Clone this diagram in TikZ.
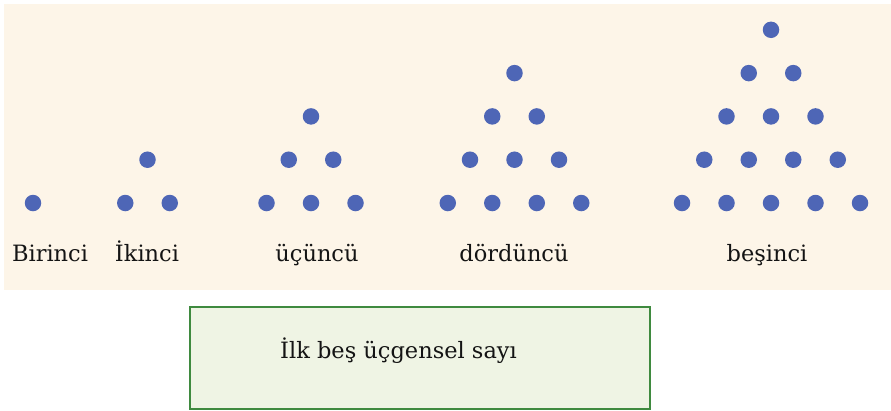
\documentclass[tikz,border=0pt]{standalone}
\usepackage{fontspec}
\setmainfont{DejaVu Serif}
\usepackage{xcolor}
\usepackage{tikz}
\usetikzlibrary{positioning,calc}
\definecolor{sand}{HTML}{FDF5E8}
\definecolor{dotblue}{HTML}{4E66B6}
\definecolor{leaf}{HTML}{3F8A3F}
\definecolor{mint}{HTML}{EFF4E4}
\definecolor{ink}{HTML}{141414}
\tikzset{
  dot/.style={circle, fill=dotblue, draw=none, inner sep=0pt, minimum size=16.5pt},
  lbl/.style={font=\fontsize{22.5}{27}\selectfont, text=ink, inner sep=0pt, anchor=base},
  notebox/.style={rectangle, draw=leaf, fill=mint, line width=2.4pt, inner sep=0pt,
                  minimum width=460pt, minimum height=102pt, anchor=north west},
}

\begin{document}
\begin{tikzpicture}[x=1pt, y=-1pt]
\useasboundingbox (0,0) rectangle (891,410);
\fill[sand] (4,4) rectangle (891,290);

% triangles: rows / apex x / name / label x / label
\foreach \k/\cx/\nm/\lx/\txt in {1/33/bir/50/Birinci, 2/147.5/iki/147/İkinci,
    3/311/uc/317/üçüncü, 4/514.5/dort/514/dördüncü, 5/771/bes/767/beşinci}{
  \foreach \r in {1,...,\k}{
    \foreach \j in {1,...,\r}{
      \node[dot] (\nm-\r-\j) at ({\cx+(\j-(\r+1)/2)*44.5}, {203-(\k-\r)*43.3}) {};
    }
  }
  \node[lbl] (\nm-lbl) at (\lx,261) {\txt};
}

\node[notebox] (box) at (189,306) {};
\node[lbl, anchor=base west] (box-lbl) at (280,358) {İlk beş üçgensel sayı};
\end{tikzpicture}
\end{document}
